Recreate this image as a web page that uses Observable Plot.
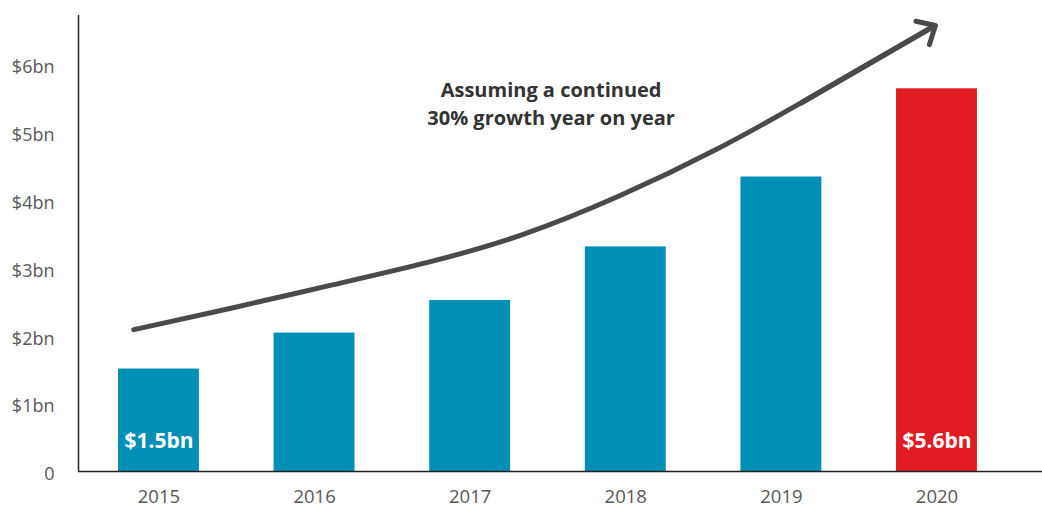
<!DOCTYPE html>
<html>
<head>
<meta charset="utf-8">
<script src="https://cdn.jsdelivr.net/npm/d3@7"></script>
<script src="https://cdn.jsdelivr.net/npm/@observablehq/plot@0.6"></script>
<style>
  body { margin: 0; background: #fff; }
  #chart svg { display: block; }
</style>
</head>
<body>
<div id="chart"></div>
<script>
// ---- data ----
const years = [2015, 2016, 2017, 2018, 2019, 2020];
const values = [1.51, 2.04, 2.52, 3.31, 4.34, 5.64];
const barColors = ["#0090b5", "#0090b5", "#0090b5", "#0090b5", "#0090b5", "#e01b22"];
const yTicks = [0, 1, 2, 3, 4, 5, 6];
const yTickLabels = ["0", "$1bn", "$2bn", "$3bn", "$4bn", "$5bn", "$6bn"];
const labelledYears = [2015, 2020];
const labelledValues = ["$1.5bn", "$5.6bn"];
// growth curve (year position, $bn)
const curveYears = [2014.838, 2015.46, 2016.102, 2016.734, 2017.323, 2017.966, 2018.598, 2019.125, 2019.658, 2019.958];
const curveValues = [2.091, 2.401, 2.745, 3.074, 3.45, 4.05, 4.748, 5.427, 6.139, 6.538];
const arrowFrom = [2019.125, 5.427];
const arrowTip = [2019.99, 6.572];
const annotationText = ["Assuming a continued\n30% growth year on year"];
const annotationPos = [2017.52, 5.45];
const xDomain = [2014.483, 2020.678];
const yDomain = [0, 6.72];

const bars = years.map((year, i) => ({year, value: values[i], color: barColors[i]}));
const curve = curveYears.map((x, i) => ({x, y: curveValues[i]}));
const barLabels = labelledYears.map((year, i) => ({year, label: labelledValues[i]}));

const font = "'Open Sans', 'Noto Sans', sans-serif";
const half = 0.26;

const chart = Plot.plot({
  width: 1042,
  height: 508,
  marginLeft: 78,
  marginRight: 0,
  marginTop: 15,
  marginBottom: 37,
  x: {type: "linear", domain: xDomain},
  y: {domain: yDomain},
  color: {type: "identity"},
  style: {fontFamily: font, background: "#fff"},
  marks: [
    Plot.rectY(bars, {x1: d => d.year - half, x2: d => d.year + half, y1: 0, y2: "value", fill: "color"}),
    Plot.ruleY([0], {stroke: "#222", strokeWidth: 1.5}),
    Plot.ruleX([xDomain[0]], {y1: yDomain[0], y2: yDomain[1], stroke: "#222", strokeWidth: 1.5}),
    Plot.line(curve, {x: "x", y: "y", curve: "basis", stroke: "#4a4a4a", strokeWidth: 5}),
    Plot.arrow([0], {
      x1: () => arrowFrom[0], y1: () => arrowFrom[1],
      x2: () => arrowTip[0], y2: () => arrowTip[1],
      stroke: "#4a4a4a", strokeWidth: 5, headLength: 6, headAngle: 85
    }),
    Plot.text(barLabels, {x: "year", y: () => 0, text: "label", dy: -30, fill: "#fff", fontWeight: "bold", fontSize: 21}),
    Plot.text(annotationText, {x: () => annotationPos[0], y: () => annotationPos[1], text: d => d, fill: "#333", fontWeight: "bold", fontSize: 20, lineHeight: 1.4}),
    Plot.axisY({ticks: yTicks, tickFormat: d => yTickLabels[yTicks.indexOf(d)], tickSize: 0, tickPadding: 24, fontSize: 18, color: "#595959", label: null, dy: 3}),
    Plot.axisX({ticks: years, tickFormat: d => String(d), tickSize: 0, tickPadding: 18, fontSize: 18.5, color: "#595959", label: null})
  ]
});
document.getElementById("chart").append(chart);
</script>
</body>
</html>
